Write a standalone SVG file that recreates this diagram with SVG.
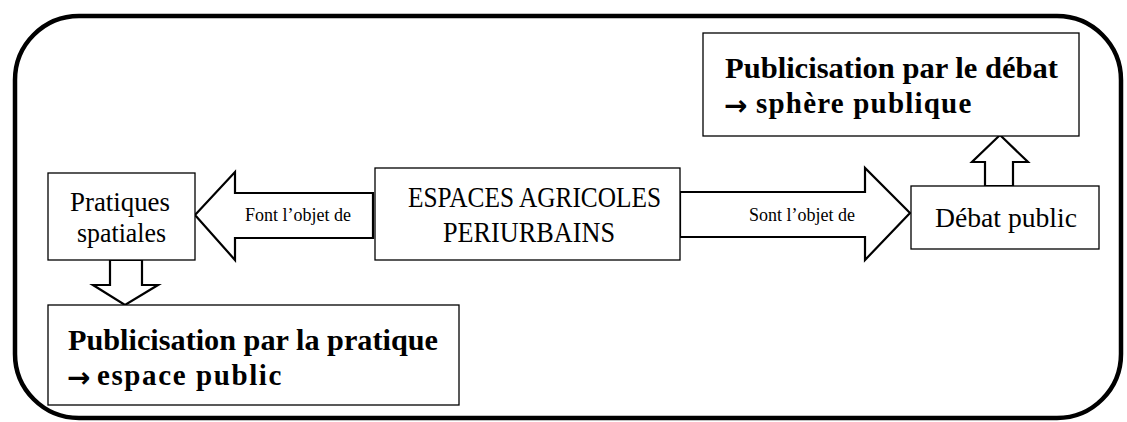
<svg xmlns="http://www.w3.org/2000/svg" width="1127" height="422" viewBox="0 0 1127 422">
<style>
.box{fill:#fff;stroke:#000;stroke-width:1.3}
.arr{fill:#fff;stroke:#000;stroke-width:2.2;stroke-linejoin:miter}
.t{font-family:"Liberation Serif",serif;fill:#000}
.n{font-size:27px}
.b{font-size:29px;font-weight:bold}
.s{font-size:18px}
.ar{font-family:"DejaVu Sans",sans-serif;font-weight:bold;font-size:28px;fill:#000}
</style>
<rect x="15" y="16" width="1106" height="402" rx="64" ry="64" fill="#fff" stroke="#000" stroke-width="4.5"/>
<g id="connectors">
<polygon class="arr" points="373,193 235,193 235,172 195,215 235,260 235,238 373,238"/>
<polygon class="arr" points="680,192 865,192 865,168 910,213 865,260 865,237 680,237"/>
<polygon class="arr" points="985,186 985,162 972,162 1000,135 1028,162 1013,162 1013,186"/>
<polygon class="arr" points="110,260 110,285 93,285 125,305 158,285 142,285 142,260"/>
<text class="t s" x="298" y="221" text-anchor="middle">Font l’objet de</text>
<text class="t s" x="802" y="221" text-anchor="middle">Sont l’objet de</text>
</g>
<g id="pratiques">
<rect class="box" x="48" y="173" width="147" height="87"/>
<text class="t n" x="70" y="211" textLength="100" lengthAdjust="spacingAndGlyphs">Pratiques</text>
<text class="t n" x="77" y="242" textLength="89" lengthAdjust="spacingAndGlyphs">spatiales</text>
</g>
<g id="espaces">
<rect class="box" x="375" y="168" width="305" height="92"/>
<text class="t" font-size="30" x="408" y="207" textLength="253" lengthAdjust="spacingAndGlyphs">ESPACES AGRICOLES</text>
<text class="t" font-size="30" x="443" y="242" textLength="172" lengthAdjust="spacingAndGlyphs">PERIURBAINS</text>
</g>
<g id="debat">
<rect class="box" x="911" y="186" width="188" height="63"/>
<text class="t" font-size="28" x="935" y="227" textLength="142" lengthAdjust="spacingAndGlyphs">Débat public</text>
</g>
<g id="pub-debat">
<rect class="box" x="703" y="33" width="376" height="103"/>
<text class="t b" x="725" y="78" textLength="333" lengthAdjust="spacingAndGlyphs">Publicisation par le débat</text>
<text class="ar" x="724" y="115">→</text>
<text class="t b" x="756" y="113" letter-spacing="1.2">sphère publique</text>
</g>
<g id="pub-pratique">
<rect class="box" x="48" y="305" width="411" height="100"/>
<text class="t b" x="68" y="350" textLength="370" lengthAdjust="spacingAndGlyphs">Publicisation par la pratique</text>
<text class="ar" x="67" y="387">→</text>
<text class="t b" x="97" y="385" letter-spacing="1.6">espace public</text>
</g>
</svg>
